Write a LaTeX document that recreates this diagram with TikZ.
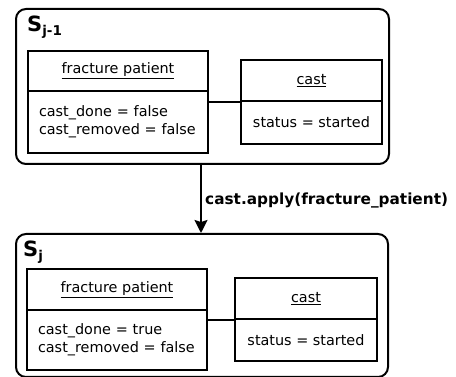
\documentclass[tikz,border=0pt]{standalone}
\usepackage{fontspec}
\setmainfont{DejaVu Sans}
\usetikzlibrary{arrows.meta}
\tikzset{
  container/.style={draw, line width=2pt, rounded corners=10pt},
  hdr/.style={draw, line width=2pt, anchor=north west, inner sep=0pt, font=\fontsize{14.4}{18}\selectfont},
  bdy/.style={draw, line width=2pt, anchor=north west, inner xsep=11pt, inner ysep=0pt, align=left, font=\fontsize{14.4}{18}\selectfont},
  link/.style={line width=2pt},
  trans/.style={line width=2pt, -{Stealth[length=13pt,width=13pt,inset=2pt]}},
  statelbl/.style={anchor=base west, inner sep=0pt},
  translbl/.style={anchor=west, inner sep=0pt, font=\fontsize{15.3}{18}\selectfont\bfseries}
}
\newcommand{\stname}[1]{{\fontsize{21}{21}\selectfont\bfseries S}{\fontsize{13.5}{13.5}\selectfont\bfseries\raisebox{-4pt}{#1}}}
\begin{document}
\begin{tikzpicture}[x=1pt,y=-1pt]
\useasboundingbox (0,0) rectangle (456,377);
% top state
\node[container, anchor=north west, minimum width=373pt, minimum height=155pt] (S1) at (15,8) {};
\node[statelbl] (S1l) at (27,32) {\stname{j-1}};
\node[hdr, minimum width=180pt, minimum height=40pt] (fp1h) at (27,50) {\underline{fracture patient}};
\node[bdy, text width=158pt, minimum height=62pt] (fp1b) at (27,90) {cast\_done = false\\cast\_removed = false};
\node[hdr, minimum width=141pt, minimum height=41pt] (c1h) at (240,59) {\underline{cast}};
\node[hdr, minimum width=141pt, minimum height=43pt] (c1b) at (240,100) {status = started};
\draw[link] (c1h.south west) -- (c1h.south west -| fp1b.east);
% bottom state
\node[container, anchor=north west, minimum width=372pt, minimum height=143pt] (S2) at (15,233) {};
\node[statelbl] (S2l) at (23,257) {\stname{j}};
\node[hdr, minimum width=180pt, minimum height=41pt] (fp2h) at (26,268) {\underline{fracture patient}};
\node[bdy, text width=158pt, minimum height=60pt] (fp2b) at (26,309) {cast\_done = true\\cast\_removed = false};
\node[hdr, minimum width=142pt, minimum height=41pt] (c2h) at (234,277) {\underline{cast}};
\node[hdr, minimum width=142pt, minimum height=42pt] (c2b) at (234,318) {status = started};
\draw[link] (c2h.south west) -- (c2h.south west -| fp2b.east);
% transition
\coordinate (a1) at (201,163);
\coordinate (a2) at (201,233);
\draw[trans] (a1) -- (a2);
\node[translbl] (tl) at (205,200) {cast.apply(fracture\_patient)};
\end{tikzpicture}
\end{document}
